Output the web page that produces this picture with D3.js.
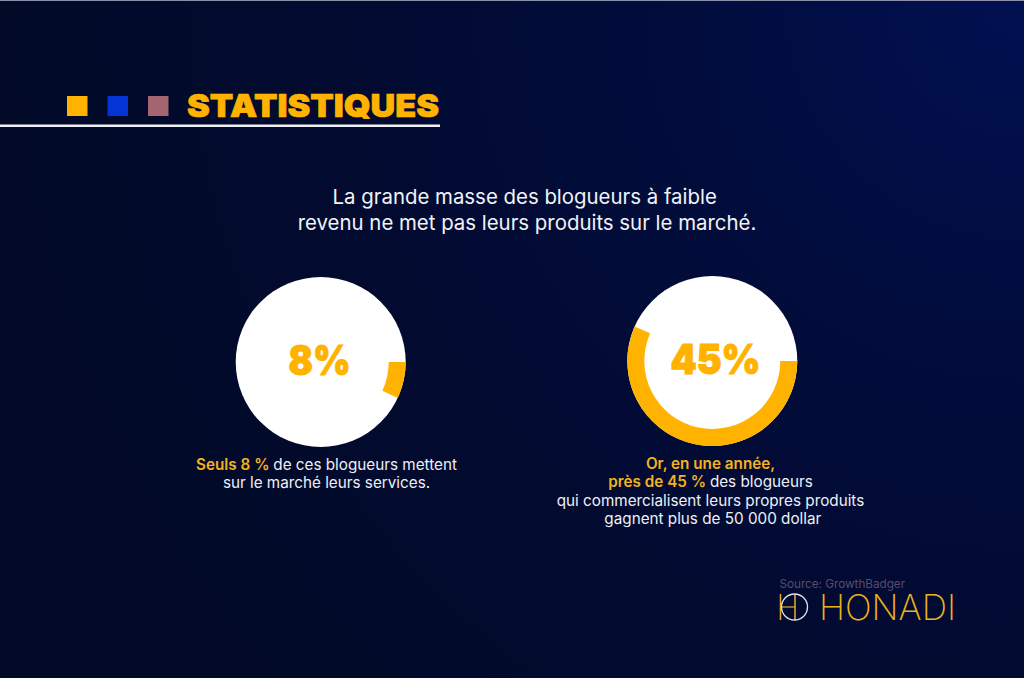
<!DOCTYPE html>
<html><head><meta charset="utf-8">
<script src="https://cdn.jsdelivr.net/npm/d3@7"></script>
<style>html,body{margin:0;padding:0;background:#020a2c}svg{display:block}text{font-family:Inter,sans-serif}</style>
</head><body><svg id="c" width="1024" height="678"></svg>
<script>
const titleText = "STATISTIQUES";
const legendColors = ["#ffb300","#0433d6","#a3656f"];
const headline = ["La grande masse des blogueurs à faible","revenu ne met pas leurs produits sur le marché."];
const labelValues = [8, 45];
const drawnSweep = [25, 204];
const captionsLeft = [[["Seuls 8 % ",1],["de ces blogueurs mettent",0]],[["sur le marché leurs services.",0]]];
const captionsRight = [[["Or, en une année,",1]],[["près de 45 % ",1],["des blogueurs",0]],[["qui commercialisent leurs propres produits",0]],[["gagnent plus de 50 000 dollar",0]]];
const sourceText = "Source: GrowthBadger";
const brandText = "HONADI";

const svg = d3.select("#c");
const defs = svg.append("defs");
const g = defs.append("radialGradient").attr("id","bg").attr("gradientUnits","userSpaceOnUse")
  .attr("cx",1024).attr("cy",0).attr("r",1050);
g.append("stop").attr("offset","0").attr("stop-color","#011052");
g.append("stop").attr("offset","0.3").attr("stop-color","#010d3e");
g.append("stop").attr("offset","0.65").attr("stop-color","#020a30");
g.append("stop").attr("offset","1").attr("stop-color","#020a28");
svg.append("rect").attr("width",1024).attr("height",678).attr("fill","url(#bg)");
svg.append("rect").attr("width",1024).attr("height",1).attr("fill","#8a90a8");

const amber="#ffb300";
const lx = d3.scalePoint().domain(d3.range(legendColors.length)).range([67,148]);
svg.selectAll("rect.lg").data(legendColors).join("rect").attr("class","lg")
  .attr("x",(d,i)=>lx(i)).attr("y",96).attr("width",20.5).attr("height",20).attr("fill",d=>d);
svg.append("text").text(titleText).attr("x",187).attr("y",116.5).attr("fill",amber)
  .attr("stroke",amber).attr("stroke-width",0.7)
  .attr("font-size",32).attr("font-weight",900).attr("textLength",252).attr("lengthAdjust","spacingAndGlyphs");
svg.append("rect").attr("x",0).attr("y",124.5).attr("width",440).attr("height",2.5).attr("fill","#eef0f6");

const headX=[524.7,527];
svg.selectAll("text.hl").data(headline).join("text").attr("class","hl").text(d=>d)
  .attr("x",(d,i)=>headX[i]).attr("y",(d,i)=>204+i*26).attr("text-anchor","middle").attr("fill","#f1f3f8").attr("font-size",20.4);

const sweep = d3.scaleLinear().domain([0,360]).range([0,2*Math.PI]);
const R=85, band=17;
const arc = d3.arc().innerRadius(R-band).outerRadius(R);
const centers=[[320.7,362],[712.3,361]];
const numX=[-1.2,3.2], numW=[62,90];
labelValues.forEach((v,i)=>{
  const n=svg.append("g").attr("transform",`translate(${centers[i]})`);
  n.append("circle").attr("r",R).attr("fill","#fff");
  n.append("path").attr("fill",amber)
    .attr("d",arc({startAngle:Math.PI/2,endAngle:Math.PI/2+sweep(drawnSweep[i])}));
  n.append("text").text(v+"%").attr("x",numX[i]-numW[i]/2).attr("y",13).attr("fill",amber)
    .attr("stroke",amber).attr("stroke-width",1.1)
    .attr("font-size",41).attr("font-weight",900).attr("textLength",numW[i]).attr("lengthAdjust","spacingAndGlyphs");
});

function caption(lines,x,y0,dx){
  const t=svg.append("g");
  lines.forEach((ln,i)=>{
    const e=t.append("text").attr("x",x+(dx[i]||0)).attr("y",y0+i*18.3).attr("text-anchor","middle").attr("font-size",15.25);
    ln.forEach(([s,hi])=>e.append("tspan").text(s).attr("fill",hi?"#f5b21f":"#eef0f6").attr("font-weight",hi?600:400).attr("xml:space","preserve"));
  });
}
caption(captionsLeft,326.5,469.5,[0,0]);
caption(captionsRight,710.5,469,[0,0,0,2.3]);

svg.append("text").text(sourceText).attr("x",779.5).attr("y",588).attr("fill","#5b4a6e").attr("font-size",11.7);
const lg=svg.append("g");
lg.append("line").attr("x1",780.5).attr("x2",780.5).attr("y1",594).attr("y2",620).attr("stroke","#e8ae20").attr("stroke-width",1.5);
lg.append("line").attr("x1",780.5).attr("x2",795).attr("y1",607).attr("y2",607).attr("stroke","#e8ae20").attr("stroke-width",1.2);
lg.append("line").attr("x1",795).attr("x2",795).attr("y1",594).attr("y2",620).attr("stroke","#e8ae20").attr("stroke-width",1.5);
lg.append("circle").attr("cx",794.5).attr("cy",607).attr("r",13).attr("fill","none").attr("stroke","#dfe3ee").attr("stroke-width",1.3);
svg.append("text").text(brandText).attr("x",819).attr("y",620).attr("fill","#ecb31f").attr("font-size",35).attr("font-weight",200)
  .attr("textLength",137).attr("lengthAdjust","spacingAndGlyphs");
</script></body></html>
